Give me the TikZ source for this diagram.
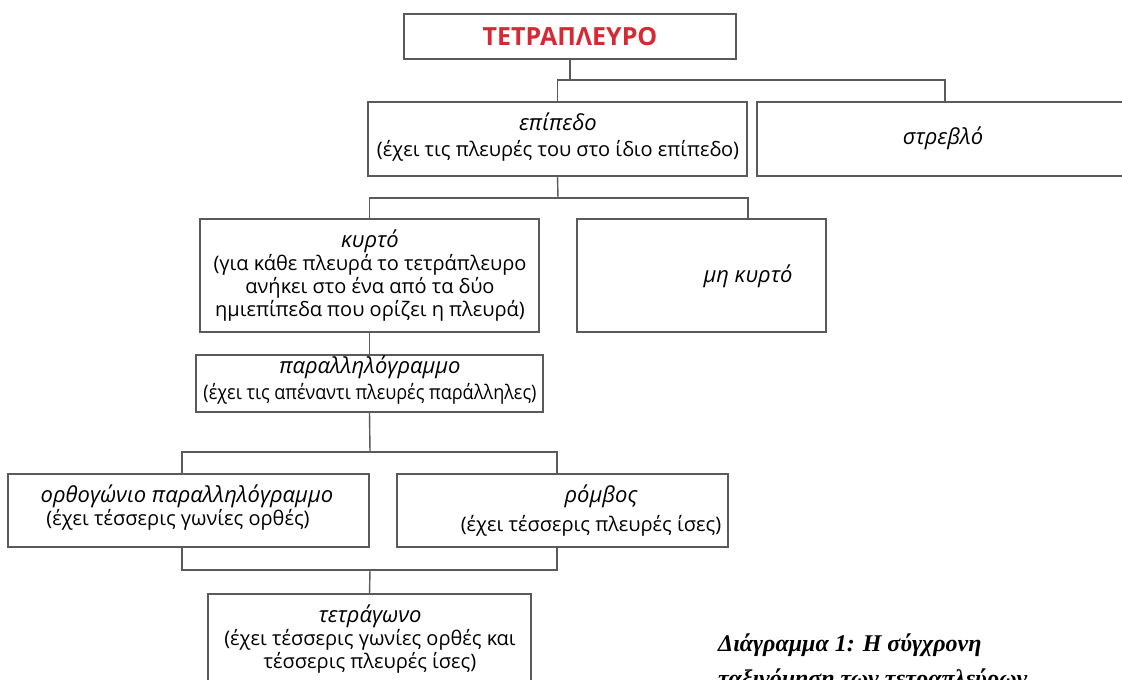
\documentclass[tikz,border=0pt]{standalone}
\usepackage{fontspec}
\setmainfont{Open Sans}
\newfontfamily\narrowfont[FakeStretch=0.9]{Open Sans}
\newfontfamily\capfont{Liberation Serif}
\usetikzlibrary{calc}
\definecolor{boxgray}{HTML}{5A5A5A}
\definecolor{linegray}{HTML}{5A5A5A}
\definecolor{titlered}{HTML}{D42A33}
\begin{document}
\begin{tikzpicture}[x=1pt,y=-1pt,
  box/.style={draw=boxgray, line width=2.8pt, fill=white, inner sep=0pt, outer sep=0pt},
  lbox/.style={box, line width=2.0pt},
  conn/.style={draw=linegray, line width=1.4pt},
  txt/.style={inner sep=0pt, text height=15pt, text depth=4pt, font=\fontsize{20}{24}\selectfont},
  ntxt/.style={txt, font=\fontsize{20}{24}\selectfont\narrowfont},
  itxt/.style={txt, font=\fontsize{22}{26}\selectfont\itshape},
  captxt/.style={inner sep=0pt, anchor=base west, font=\fontsize{24}{28}\selectfont\capfont\bfseries\itshape}
]
\useasboundingbox (0,0) rectangle (1122,680);
\clip (0,0) rectangle (1122,680);

% boxes
\node[box, minimum width=332pt, minimum height=45pt, font=\fontsize{25}{28}\selectfont\bfseries, text=titlered] (tet) at (570,36.5) {ΤΕΤΡΑΠΛΕΥΡΟ};
\node[box, minimum width=379pt, minimum height=74pt] (epi) at (557.5,139) {};
\node[box, minimum width=376pt, minimum height=74pt] (str) at (945,139) {};
\node[box, minimum width=339pt, minimum height=113pt] (kyr) at (369.5,275.5) {};
\node[box, minimum width=249pt, minimum height=113pt] (mky) at (701.5,275.5) {};
\node[box, minimum width=347pt, minimum height=57pt] (par) at (369.5,383.5) {};
\node[lbox, minimum width=361pt, minimum height=73pt] (ort) at (188.5,510.5) {};
\node[lbox, minimum width=331pt, minimum height=73pt] (rom) at (562.5,510.5) {};
\node[lbox, minimum width=323pt, minimum height=106pt] (tetr) at (369.5,647) {};

% texts
\node[itxt] (epi1) at (558,125) {επίπεδο};
\node[txt] (epi2) at (558,151) {(έχει τις πλευρές του στο ίδιο επίπεδο)};
\node[itxt] (str1) at (943,139) {στρεβλό};
\node[itxt] (kyr1) at (370,242) {κυρτό};
\node[txt] (kyr2) at (370,265) {(για κάθε πλευρά το τετράπλευρο};
\node[txt] (kyr3) at (370,288) {ανήκει στο ένα από τα δύο};
\node[txt] (kyr4) at (370,311) {ημιεπίπεδα που ορίζει η πλευρά)};
\node[itxt] (mky1) at (748,277) {μη κυρτό};
\node[itxt] (par1) at (370,368) {παραλληλόγραμμο};
\node[ntxt] (par2) at (370,394) {(έχει τις απέναντι πλευρές παράλληλες)};
\node[itxt] (ort1) at (187,497) {ορθογώνιο παραλληλόγραμμο};
\node[txt] (ort2) at (178,520) {(έχει τέσσερις γωνίες ορθές)};
\node[itxt] (rom1) at (601,497) {ρόμβος};
\node[txt] (rom2) at (591,526) {(έχει τέσσερις πλευρές ίσες)};
\node[itxt] (tetr1) at (370,617) {τετράγωνο};
\node[txt] (tetr2) at (370,640) {(έχει τέσσερις γωνίες ορθές και};
\node[txt] (tetr3) at (370,663) {τέσσερις πλευρές ίσες)};

\node[captxt] (cap1) at (718,651) {Διάγραμμα 1: Η σύγχρονη};
\node[captxt] (cap2) at (718,686) {ταξινόμηση των τετραπλεύρων};

% junctions
\coordinate (j1) at (570,80);
\coordinate (j2) at (558,198);
\coordinate (j3) at (370,452);
\coordinate (j4) at (370,570);

% connectors
\draw[conn] (tet.south) -- (j1);
\draw[conn] (epi.north) |- (j1) -| (str.north);
\draw[conn] (epi.south) -- (j2);
\draw[conn] (kyr.north) |- (j2) -| (mky.north -| mky1);
\draw[conn] (kyr.south) -- (par.north);
\draw[conn] (par.south) -- (j3);
\draw[conn] ($(ort.north)+(-6.5,0)$) |- (j3) -| ($(rom.north)+(-5.5,0)$);
\draw[conn] ($(ort.south)+(-6.5,0)$) |- (j4) -| ($(rom.south)+(-5.5,0)$);
\draw[conn] (j4) -- (tetr.north);
\end{tikzpicture}
\end{document}
